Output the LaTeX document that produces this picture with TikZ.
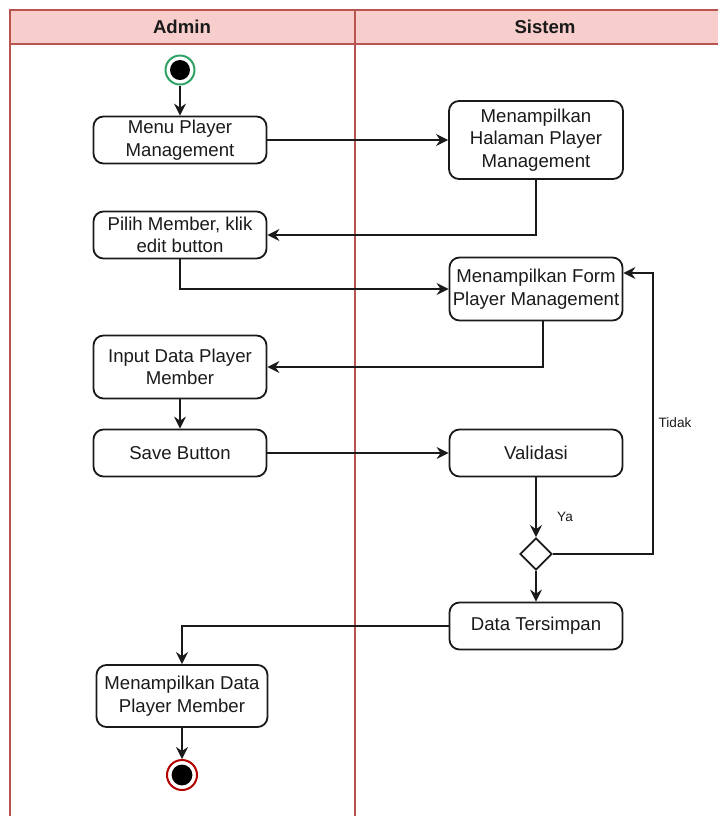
\documentclass[tikz,border=0pt]{standalone}
\usepackage{fontspec}
\setmainfont{Liberation Sans}
\usetikzlibrary{arrows.meta,shapes.geometric}
\definecolor{lanefill}{HTML}{F8CECC}
\definecolor{lanestroke}{HTML}{B85450}
\definecolor{startgreen}{HTML}{2FA366}
\definecolor{endred}{HTML}{B20000}
\definecolor{ink}{HTML}{1A1A1A}
\tikzset{
  act/.style={draw=ink, line width=0.9pt, rounded corners=5pt, align=center,
    minimum width=86.5pt, inner sep=1pt, text=ink,
    font=\fontsize{9.3}{11.3}\selectfont},
  arr/.style={draw=ink, line width=0.75pt, -{Stealth[length=6pt,width=6pt,inset=2pt]}},
  lbl/.style={font=\fontsize{6.8}{8}\selectfont, text=ink, inner sep=0pt},
  lanehead/.style={font=\bfseries\fontsize{9.3}{11}\selectfont, text=ink},
  lane/.style={draw=lanestroke, line width=0.7pt}
}
\begin{document}
\begin{tikzpicture}[x=0.5pt,y=-0.5pt]
  \useasboundingbox (0,0) rectangle (718,816);
  % swimlanes
  \fill[lanefill] (10,10) rectangle (720,44);
  \draw[lane] (720,10) -- (10,10) -- (10,818);
  \draw[lane] (10,44) -- (720,44);
  \draw[lane] (355,10) -- (355,818);
  \node[lanehead] (hadmin) at (182,27) {Admin};
  \node[lanehead] (hsistem) at (545,27) {Sistem};

  % initial node
  \node[circle, draw=startgreen, line width=1pt, minimum size=14.5pt, inner sep=0pt] (start) at (180,70) {};
  \fill[black] (start) circle (5pt);

  % activities
  \node[act, minimum height=23.5pt] (menu) at (180,140) {Menu Player\\Management};
  \node[act, minimum height=39pt, minimum width=87pt] (halaman) at (536,140) {Menampilkan\\Halaman Player\\Management};
  \node[act, minimum height=23.5pt] (pilih) at (180,235) {Pilih Member, klik\\edit button};
  \node[act, minimum height=31.5pt] (form) at (536,289) {Menampilkan Form\\Player Management};
  \node[act, minimum height=31.5pt] (input) at (180,367) {Input Data Player\\Member};
  \node[act, minimum height=23.5pt] (save) at (180,453) {Save Button};
  \node[act, minimum height=23.5pt] (valid) at (536,453) {Validasi};
  \node[diamond, draw=ink, line width=0.9pt, minimum width=16pt, minimum height=16pt, inner sep=0pt] (dia) at (536,554) {};
  \node[act, minimum height=23.5pt] (data) at (536,626) {Data Tersimpan};
  \node[act, minimum height=31pt, minimum width=85.5pt] (tampil) at (182,696) {Menampilkan Data\\Player Member};

  % final node
  \node[circle, draw=endred, line width=1pt, minimum size=15pt, inner sep=0pt] (end) at (182,775) {};
  \fill[black] (end) circle (5.2pt);

  % flows
  \draw[arr] (start) -- (menu);
  \draw[arr] (menu) -- (halaman);
  \draw[arr] (halaman.south) |- (pilih.east);
  \draw[arr] (pilih.south) |- (form.west);
  \draw[arr] ([xshift=3.5pt]form.south) |- (input.east);
  \draw[arr] (input) -- (save);
  \draw[arr] (save) -- (valid);
  \draw[arr] (valid) -- (dia);
  \coordinate (loop) at (653,273);
  \draw[arr] (dia.east) -| (loop) -- (form.east |- loop);
  \draw[arr] (dia) -- (data);
  \draw[arr] (data.west) -| (tampil.north);
  \draw[arr] (tampil) -- (end);

  % guards
  \node[lbl] (ya) at (565,517) {Ya};
  \node[lbl] (tidak) at (675,423) {Tidak};
\end{tikzpicture}
\end{document}
